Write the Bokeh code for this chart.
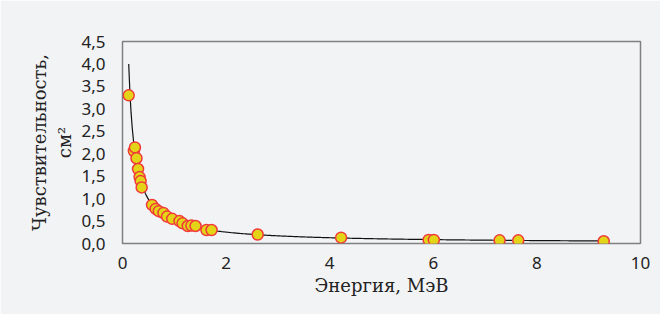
import numpy as np
from bokeh.plotting import figure
from bokeh.models import FixedTicker
from bokeh.embed import file_html
from bokeh.resources import INLINE

energy = [0.12, 0.22, 0.24, 0.27, 0.30, 0.33, 0.35, 0.37, 0.57, 0.64, 0.70, 0.79,
          0.86, 0.96, 1.10, 1.16, 1.26, 1.33, 1.41, 1.62, 1.72, 2.61, 4.22, 5.91,
          6.01, 7.28, 7.64, 9.29]
sensitivity = [3.30, 2.06, 2.14, 1.90, 1.66, 1.48, 1.39, 1.25, 0.86, 0.77, 0.72, 0.68,
               0.60, 0.55, 0.50, 0.45, 0.39, 0.40, 0.39, 0.30, 0.30, 0.20, 0.13, 0.08,
               0.08, 0.07, 0.07, 0.05]
x_ticks = [0, 2, 4, 6, 8, 10]
y_ticks = [0.0, 0.5, 1.0, 1.5, 2.0, 2.5, 3.0, 3.5, 4.0, 4.5]
y_tick_labels = ["0,0", "0,5", "1,0", "1,5", "2,0", "2,5", "3,0", "3,5", "4,0", "4,5"]

# power-law trendline fitted to the data (as in a spreadsheet "power" trend)
b, lna = np.polyfit(np.log(energy), np.log(sensitivity), 1)
xt = np.linspace(min(energy), max(energy), 400)
yt = np.exp(lna) * xt ** b

BG = "#f2f3f5"
p = figure(width=660, height=314, x_range=(0, 10), y_range=(0, 4.5),
           output_backend="svg", toolbar_location=None,
           background_fill_color=BG, border_fill_color=BG,
           min_border_left=122, min_border_right=20, min_border_top=41, min_border_bottom=71)

p.outline_line_color = "#808080"
p.outline_line_width = 1.5
p.xgrid.visible = False
p.ygrid.visible = False

for ax in (p.xaxis[0], p.yaxis[0]):
    ax.axis_line_color = None
    ax.major_tick_line_color = None
    ax.minor_tick_line_color = None
    ax.major_label_text_font = "Noto Sans"
    ax.major_label_text_font_size = "17px"
    ax.major_label_text_color = "#222222"
    ax.axis_label_text_font = "DejaVu Serif"
    ax.axis_label_text_font_size = "18px"
    ax.axis_label_text_font_style = "normal"
    ax.axis_label_text_color = "#222222"

p.xaxis.ticker = FixedTicker(ticks=x_ticks)
p.yaxis.ticker = FixedTicker(ticks=y_ticks)
p.yaxis.major_label_overrides = {t: l for t, l in zip(y_ticks, y_tick_labels)}
p.xaxis.major_label_standoff = 7
p.yaxis.major_label_standoff = 11
p.xaxis.axis_label = "Энергия, МэВ"
p.xaxis.axis_label_standoff = 3
p.yaxis.axis_label = "Чувствительность,\nсм²"
p.yaxis.axis_label_standoff = 3

p.line(xt, yt, line_color="#111111", line_width=1.2)
p.scatter(energy, sensitivity, size=11, fill_color="#e4d417",
          line_color="#f03a3a", line_width=1.5)

open("out.html", "w").write(file_html(p, INLINE))
